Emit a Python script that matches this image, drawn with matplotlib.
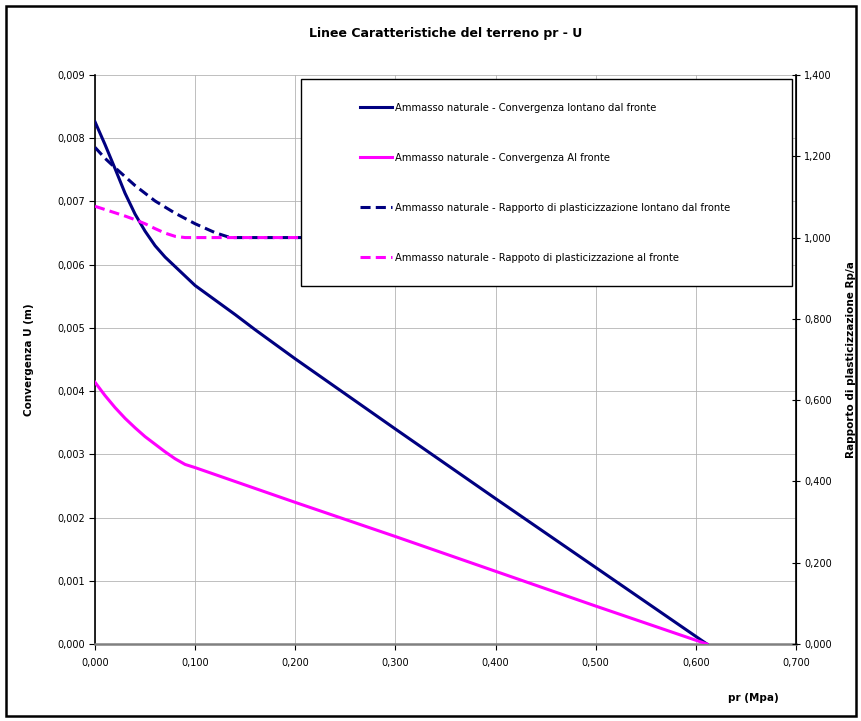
import matplotlib
matplotlib.use("Agg")
import matplotlib.pyplot as plt
from matplotlib.patches import Rectangle
from matplotlib.ticker import FuncFormatter, MultipleLocator

# dati
pr_lontano = [0, 0.01, 0.02, 0.03, 0.04, 0.05, 0.06, 0.07, 0.08, 0.09, 0.10,
              0.12, 0.14, 0.16, 0.18, 0.20, 0.30, 0.40, 0.50, 0.611]
u_lontano = [0.00826, 0.00790, 0.00752, 0.00713, 0.00680, 0.00653, 0.00630,
             0.00612, 0.00597, 0.00582, 0.00567, 0.00544, 0.00521, 0.00497,
             0.00474, 0.00451, 0.00340, 0.00230, 0.00121, 0.0]

pr_fronte = [0, 0.01, 0.02, 0.03, 0.04, 0.05, 0.06, 0.07, 0.08, 0.09,
             0.10, 0.20, 0.30, 0.40, 0.50, 0.611]
u_fronte = [0.00414, 0.00393, 0.00374, 0.00357, 0.00342, 0.00328, 0.00316,
            0.00304, 0.00293, 0.00284, 0.00279, 0.00224, 0.00170, 0.00115,
            0.00060, 0.0]

pr_rp_lontano = [0, 0.01, 0.02, 0.04, 0.06, 0.08, 0.10, 0.12, 0.135, 0.611]
rp_lontano = [1.222, 1.195, 1.172, 1.128, 1.090, 1.060, 1.034, 1.012, 1.000, 1.000]

pr_rp_fronte = [0, 0.01, 0.02, 0.03, 0.04, 0.05, 0.06, 0.07, 0.08, 0.09, 0.611]
rp_fronte = [1.077, 1.069, 1.061, 1.053, 1.044, 1.034, 1.022, 1.011, 1.003,
             1.000, 1.000]

labels = ["Ammasso naturale - Convergenza lontano dal fronte",
          "Ammasso naturale - Convergenza Al fronte",
          "Ammasso naturale - Rapporto di plasticizzazione lontano dal fronte",
          "Ammasso naturale - Rappoto di plasticizzazione al fronte"]

NAVY = "#000080"
MAGENTA = "#ff00ff"
plt.rcParams["font.family"] = ["DejaVu Sans"]


def virgola(v, pos):
    return f"{v:.3f}".replace(".", ",")


fig = plt.figure(figsize=(8.62, 7.21), dpi=100)
ax = fig.add_axes([95 / 862, 77 / 721, 701 / 862, 569 / 721])
ax2 = ax.twinx()

l1, = ax.plot(pr_lontano, u_lontano, color=NAVY, lw=2.2, zorder=3)
l2, = ax.plot(pr_fronte, u_fronte, color=MAGENTA, lw=2.2, zorder=3)
l3, = ax2.plot(pr_rp_lontano, rp_lontano, color=NAVY, lw=2.2, dashes=(3.3, 1.7))
l4, = ax2.plot(pr_rp_fronte, rp_fronte, color=MAGENTA, lw=2.2, dashes=(3.3, 1.7))

ax.set_xlim(0, 0.7)
ax.set_ylim(0, 0.009)
ax2.set_ylim(0, 1.4)
ax.xaxis.set_major_locator(MultipleLocator(0.1))
ax.yaxis.set_major_locator(MultipleLocator(0.001))
ax2.yaxis.set_major_locator(MultipleLocator(0.2))
ax.xaxis.set_major_formatter(FuncFormatter(virgola))
ax.yaxis.set_major_formatter(FuncFormatter(virgola))
ax2.yaxis.set_major_formatter(FuncFormatter(virgola))

ax.grid(True, color="#b4b4b4", lw=0.6)
ax.set_axisbelow(True)
ax.tick_params(labelsize=7, length=4, width=0.8, pad=3)
ax.tick_params(axis="x", pad=6)
ax2.tick_params(labelsize=7, length=6, width=0.8, pad=3, direction="inout")

ax.spines["top"].set_visible(False)
ax2.spines["top"].set_visible(False)
ax.spines["bottom"].set_color("#808080")
ax.spines["bottom"].set_linewidth(1.8)
ax.spines["left"].set_linewidth(1.2)
ax2.spines["right"].set_linewidth(1.2)
ax2.spines["bottom"].set_visible(False)
ax2.spines["left"].set_visible(False)

ax.set_title("Linee Caratteristiche del terreno pr - U", fontsize=9,
             fontweight="bold", pad=27)
ax.set_ylabel("Convergenza U (m)", fontsize=7.5, fontweight="bold", labelpad=17)
ax2.set_ylabel("Rapporto di plasticizzazione Rp/a", fontsize=7.5,
               fontweight="bold", labelpad=10)
fig.text(753 / 862, 1 - 698 / 721, "pr (Mpa)", fontsize=7.5,
         fontweight="bold", ha="center", va="center")

# riquadro legenda
ax2.add_patch(Rectangle((0.294, 0.629), 0.700, 0.364, transform=ax2.transAxes,
                        facecolor="white", edgecolor="black", lw=1.0,
                        zorder=4.5, clip_on=False))
ax2.legend([l1, l2, l3, l4], labels, loc="center left",
           bbox_to_anchor=(0.378, 0.811), frameon=False, fontsize=7.2,
           labelspacing=4.0, handlelength=3.2, handletextpad=0.3,
           borderpad=0, borderaxespad=0)

# cornice esterna
fig.patches.append(Rectangle((6 / 862, 5 / 721), 850 / 862, 710 / 721,
                             transform=fig.transFigure, fill=False,
                             edgecolor="black", lw=1.8))

fig.savefig("out.png", dpi=100)
